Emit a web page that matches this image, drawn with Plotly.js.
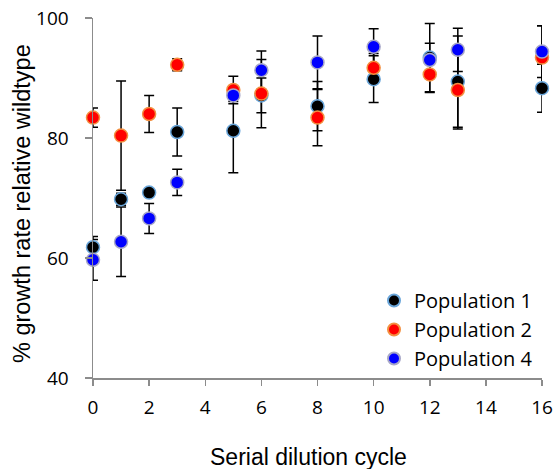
<!DOCTYPE html>
<html>
<head>
<meta charset="utf-8">
<script src="https://cdn.plot.ly/plotly-3.0.1.min.js"></script>
<style>html,body{margin:0;padding:0;background:#fff;}#chart{width:554px;height:469px;}</style>
</head>
<body>
<div id="chart"></div>
<script>
// Serial dilution cycles
const cycles = [0, 1, 2, 3, 5, 6, 8, 10, 12, 13, 16];

// Population 1
const pop1 = [61.8, 69.8, 70.9, 81.0, 81.2, 87.1, 85.3, 89.8, 93.4, 89.4, 88.3];
const pop1Err = [1.8, 1.0, 0.6, 4.0, 7.0, 2.9, 4.1, 3.9, 5.7, 7.6, 4.0];

// Population 2
const pop2 = [83.4, 80.4, 84.0, 92.2, 88.0, 87.4, 83.4, 91.7, 90.6, 88.0, 93.4];
const pop2Err = [1.6, 9.1, 3.1, 1.0, 2.3, 5.7, 4.7, 2.4, 3.0, 6.5, 5.3];

// Population 4
const pop4 = [59.7, 62.7, 66.6, 72.6, 87.1, 91.3, 92.6, 95.2, 93.0, 94.7, 94.4];
const pop4Err = [3.4, 5.8, 2.5, 2.2, 1.0, 3.2, 4.4, 3.0, 2.8, 3.6, 4.3];

const seriesNames = ["Population 1", "Population 2", "Population 4"];
const xTitle = "Serial dilution cycle";
const yTitle = "% growth rate relative wildtype";
const fills = ["#000000", "#ff0000", "#0000ff"];
const edges = ["#6aa6da", "#f39040", "#a8a8c8"];
const ys = [pop1, pop2, pop4];
const errs = [pop1Err, pop2Err, pop4Err];

const traces = [];
// error bars first (behind all markers)
for (let i = 0; i < 3; i++) {
  traces.push({
    x: cycles, y: ys[i], type: "scatter", mode: "markers",
    marker: {size: 1, color: "rgba(0,0,0,0)"},
    error_y: {type: "data", array: errs[i], visible: true, color: "#000000", thickness: 1.5, width: 5},
    showlegend: false, hoverinfo: "skip", cliponaxis: false
  });
}
for (let i = 0; i < 3; i++) {
  traces.push({
    x: cycles, y: ys[i], type: "scatter", mode: "markers", name: seriesNames[i],
    marker: {size: 13, color: fills[i], line: {color: edges[i], width: 1.5}},
    cliponaxis: false
  });
}

const W = 554, H = 469, L = 93, R = 12, T = 18, B = 91;
const pw = W - L - R, ph = H - T - B;

const layout = {
  width: W, height: H,
  margin: {l: L, r: R, t: T, b: B},
  paper_bgcolor: "#ffffff", plot_bgcolor: "#ffffff",
  font: {family: "Open Sans, sans-serif", color: "#000000"},
  showlegend: true,
  legend: {
    x: (374 - L) / pw, xref: "paper", y: (H - B - 329.5) / ph, yanchor: "middle",
    font: {family: "Open Sans, sans-serif", size: 20, color: "#000"},
    bgcolor: "rgba(0,0,0,0)", tracegroupgap: 0, itemsizing: "constant"
  },
  xaxis: {
    range: [0, 16], tickvals: [0,2,4,6,8,10,12,14,16],
    showgrid: false, zeroline: false, showline: true, linecolor: "#8c8c8c", linewidth: 1.5,
    ticks: "outside", ticklen: 6, tickwidth: 1.5, tickcolor: "#8c8c8c",
    ticklabelstandoff: 6,
    tickfont: {family: "Open Sans, sans-serif", size: 19, color: "#000"}
  },
  yaxis: {
    range: [40, 100], tickvals: [40,60,80,100],
    showgrid: false, zeroline: false, showline: true, linecolor: "#8c8c8c", linewidth: 1.5,
    ticks: "outside", ticklen: 7, tickwidth: 1.5, tickcolor: "#8c8c8c",
    ticklabelstandoff: 12,
    tickfont: {family: "Open Sans, sans-serif", size: 19, color: "#000"}
  },
  annotations: [
    {text: xTitle, xref: "paper", yref: "paper", x: (308 - L) / pw, y: (H - B - 457) / ph,
     xanchor: "center", yanchor: "middle", showarrow: false,
     font: {family: "Liberation Sans, Arial, sans-serif", size: 23, color: "#000"}},
    {text: yTitle, xref: "paper", yref: "paper", x: (22 - L) / pw, y: (H - B - 204) / ph,
     xanchor: "center", yanchor: "middle", showarrow: false, textangle: -90,
     font: {family: "Liberation Sans, Arial, sans-serif", size: 23.5, color: "#000"}}
  ]
};

Plotly.newPlot("chart", traces, layout, {displayModeBar: false, staticPlot: true});
</script>
</body>
</html>
